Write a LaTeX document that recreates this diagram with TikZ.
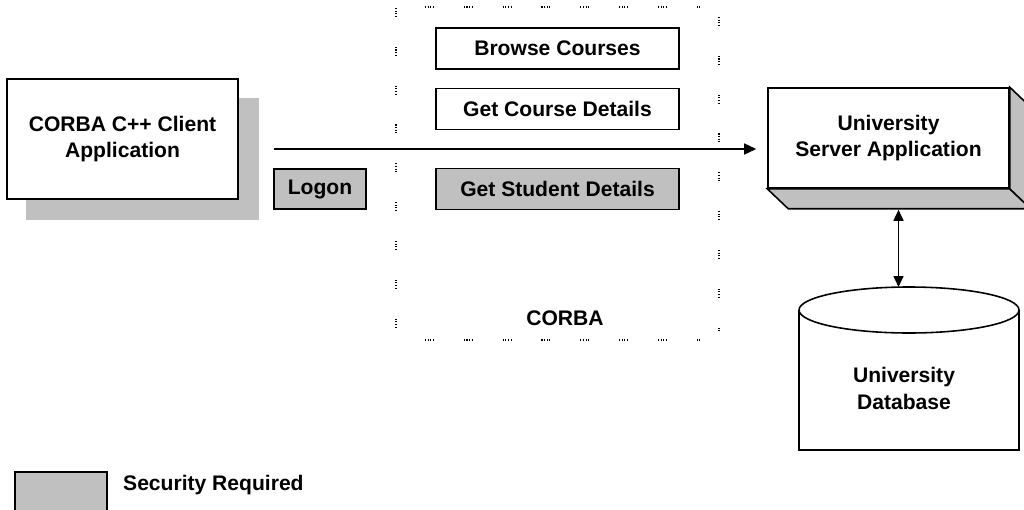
\documentclass[tikz,border=0pt]{standalone}
\usepackage{fontspec}
\setmainfont{Liberation Sans}
\usetikzlibrary{arrows.meta,backgrounds}
\definecolor{keygray}{RGB}{192,192,192}

\begin{document}
\begin{tikzpicture}[x=0.02cm, y=-0.02cm,
    every node/.style={font=\bfseries\fontsize{12}{15}\selectfont, align=center},
    box/.style={draw, line width=0.9pt, fill=white, inner sep=0pt},
    secure/.style={box, fill=keygray},
    callbox/.style={minimum width=4.86cm, minimum height=0.82cm},
    arr/.style={line width=0.8pt, -{Triangle[length=0.24cm,width=0.22cm]}},
    dblarr/.style={line width=0.9pt, {Triangle[length=0.22cm,width=0.2cm]}-{Triangle[length=0.22cm,width=0.2cm]}},
    dots/.style={line width=0.9pt, dash pattern=on 0.6pt off 0.9pt on 0.6pt off 0.9pt on 0.6pt off 0.9pt on 0.6pt off 17pt}]
  \useasboundingbox (0,0) rectangle (1024,510);
  \clip (0,0) rectangle (1024,510);

  % client and its shadow
  \node[box, minimum width=4.62cm, minimum height=2.4cm] (client) at (122.5,139) {CORBA C++ Client\\Application};
  \begin{pgfonlayer}{background}
    \fill[keygray] ([shift={(20,20)}]client.south west) rectangle ([shift={(20,20)}]client.north east);
  \end{pgfonlayer}

  % CORBA frame
  \draw[dots] (425,7) -- (702,7);
  \draw[dots] (425,340) -- (702,340);
  \draw[dots] (396,8) -- (396,332);
  \draw[dots] (719,17) -- (719,332);
  \node (corba) at (565,318) {CORBA};

  % operations
  \node[box, callbox] (browse) at (557.5,48.5) {Browse Courses};
  \node[box, callbox] (course) at (557.5,109) {Get Course Details};
  \node[secure, callbox] (student) at (557.5,189) {Get Student Details};
  \node[secure, minimum width=1.84cm, minimum height=0.8cm] (logon) at (320,189) {Logon};

  % server, drawn as a block
  \node[box, minimum width=4.82cm, minimum height=2cm] (server) at (888.5,138) {University\\Server Application};
  \draw[line width=0.9pt, fill=keygray] (server.south west) -- (server.south east)
    -- ([shift={(21,20)}]server.south east) -- ([shift={(21,20)}]server.south west) -- cycle;
  \draw[line width=0.9pt, fill=keygray] (server.north east) -- ([shift={(21,20)}]server.north east)
    -- ([shift={(21,20)}]server.south east) -- (server.south east) -- cycle;

  % database
  \draw[line width=0.9pt, fill=white] (799,310) -- (799,450) -- (1019,450) -- (1019,310);
  \draw[line width=0.9pt, fill=white] (909,310) ellipse [x radius=110, y radius=23];
  \node (db) at (904,388.5) {University\\Database};
  \coordinate (dbtop) at (898.5,287);

  % calls
  \coordinate (callstart) at (274,149);
  \draw[arr] (callstart) -- ([xshift=-0.22cm]server.west |- callstart);
  \draw[dblarr] ([shift={(10,21)}]server.south) -- (dbtop);

  % legend
  \node[secure, minimum width=1.84cm, minimum height=1.2cm, anchor=north west] (key) at (14,471) {};
  \node[anchor=west] (keytext) at (117,485) {Security Required};
\end{tikzpicture}
\end{document}
